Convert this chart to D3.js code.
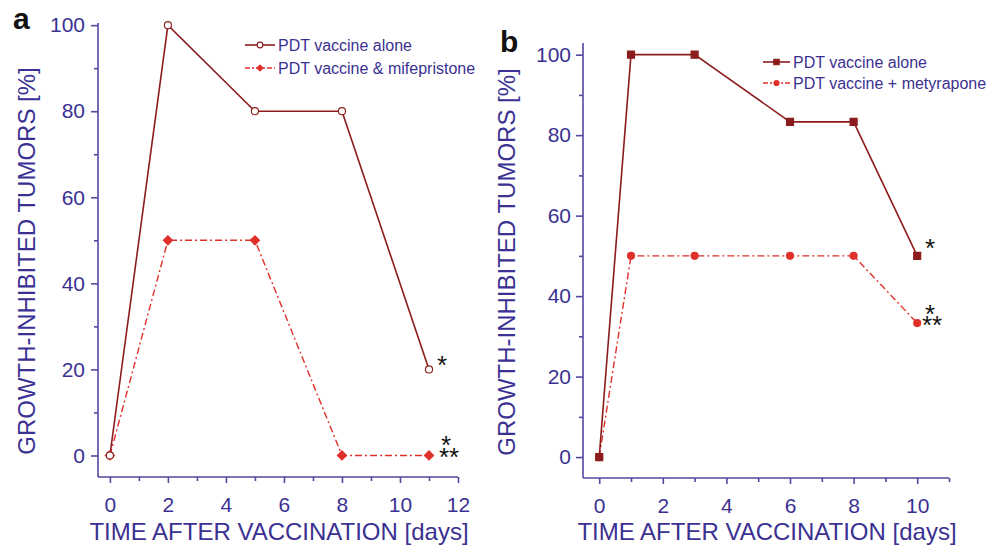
<!DOCTYPE html>
<html><head><meta charset="utf-8">
<script src="https://cdn.jsdelivr.net/npm/d3@7"></script>
<style>body{margin:0;background:#fff}svg{display:block}text{font-family:"Liberation Sans",Arial,sans-serif}</style>
</head><body><svg id="c" width="987" height="547"></svg>
<script>
// Panel a data
const daysA = [0, 2, 5, 8, 11];
const aloneA = [0, 100, 80, 80, 20];
const mifeA = [0, 50, 50, 0, 0];
// Panel b data
const daysB = [0, 1, 3, 6, 8, 10];
const aloneB = [0, 100, 100, 83.3, 83.3, 50];
const metyB = [0, 50, 50, 50, 50, 33.3];
const yTicks = [0, 20, 40, 60, 80, 100];
const xTicksA = [0, 2, 4, 6, 8, 10, 12];
const xTicksB = [0, 2, 4, 6, 8, 10];
const legendA = ["PDT vaccine alone", "PDT vaccine & mifepristone"];
const legendB = ["PDT vaccine alone", "PDT vaccine + metyrapone"];
const yTitle = "GROWTH-INHIBITED TUMORS [%]";
const xTitle = "TIME AFTER VACCINATION [days]";

const svg = d3.select("#c");
const TXT = "#3b3192", AX = "#5148a0", DARK = "#8c1c1c", RED = "#e0302a";

function marker(kind, size) {
  if (kind === "diamond") return d3.symbol(d3.symbolSquare, size)();
  if (kind === "square") return d3.symbol(d3.symbolSquare, size)();
  return d3.symbol(d3.symbolCircle, size)();
}

function panel(o) {
  const g = svg.append("g");
  const x = d3.scaleLinear().domain(o.xd).range(o.xr);
  const y = d3.scaleLinear().domain(o.yd).range(o.yr);
  const ya = g.append("g").attr("transform", `translate(${o.xr[0]},0)`)
    .call(d3.axisLeft(y).tickValues(d3.range(0, 101, 10)).tickSize(7).tickPadding(o.ypad)
      .tickFormat(d => yTicks.includes(d) ? d : ""));
  ya.selectAll(".tick line").attr("x2", d => yTicks.includes(d) ? -7 : -4);
  const xa = g.append("g").attr("transform", `translate(0,${o.yr[0]})`)
    .call(d3.axisBottom(x).tickValues(d3.range(0, o.xmax + 0.01, 1)).tickSize(6).tickPadding(14)
      .tickFormat(d => o.xt.includes(d) ? d : ""));
  xa.selectAll(".tick line").attr("y2", d => o.xt.includes(d) ? 6 : 4);
  [ya, xa].forEach(a => {
    a.select(".domain").remove();
    a.selectAll(".tick line").attr("stroke", AX).attr("stroke-width", 1.6);
    a.selectAll("text").attr("fill", TXT).style("font-size", "21px").attr("font-family", "Liberation Sans, Arial, sans-serif");
  });
  g.append("line").attr("x1", o.xr[0]).attr("x2", o.xr[0]).attr("y1", o.yr[0]).attr("y2", o.yr[1]).attr("stroke", AX).attr("stroke-width", 1.6);
  g.append("line").attr("x1", o.xr[0]).attr("x2", o.xr[1]).attr("y1", o.yr[0]).attr("y2", o.yr[0]).attr("stroke", AX).attr("stroke-width", 1.6);

  // titles
  g.append("text").attr("transform", `translate(${o.ytx},${o.ytc}) rotate(-90)`)
    .attr("text-anchor", "middle").attr("fill", TXT).style("font-size", "24px").text(yTitle);
  g.append("text").attr("x", o.xtc).attr("y", 540)
    .attr("text-anchor", "middle").attr("fill", TXT).style("font-size", "24px").text(xTitle);
  g.append("text").attr("x", o.lbl[0]).attr("y", o.lbl[1]).attr("fill", "#111")
    .style("font-size", "30px").style("font-weight", "bold").text(o.letter);

  const line = d3.line().x(d => x(d[0])).y(d => y(d[1]));
  const s1 = o.days.map((d, i) => [d, o.s1[i]]);
  const s2 = o.days.map((d, i) => [d, o.s2[i]]);
  g.append("path").attr("d", line(s2)).attr("fill", "none").attr("stroke", RED).attr("stroke-width", 1.4).attr("stroke-dasharray", "7,3,2,3");
  g.append("path").attr("d", line(s1)).attr("fill", "none").attr("stroke", DARK).attr("stroke-width", 1.6);

  const rot2 = o.m2 === "diamond" ? " rotate(45)" : "";
  g.selectAll(".m2").data(s2).enter().append("path").attr("d", marker(o.m2, o.m2 === "diamond" ? 58 : 52))
    .attr("transform", d => `translate(${x(d[0])},${y(d[1])})${rot2}`).attr("fill", RED);
  g.selectAll(".m1").data(s1).enter().append("path").attr("d", marker(o.m1, o.m1 === "square" ? 50 : 40))
    .attr("transform", d => `translate(${x(d[0])},${y(d[1])})`)
    .attr("fill", o.m1 === "square" ? DARK : "#fff").attr("stroke", DARK).attr("stroke-width", 1.1);

  // legend
  o.leg.forEach((t, i) => {
    const ly = o.legY + i * o.legGap;
    const lx = o.legX;
    g.append("line").attr("x1", lx).attr("x2", lx + o.legW).attr("y1", ly).attr("y2", ly)
      .attr("stroke", i ? RED : DARK).attr("stroke-width", 1.6).attr("stroke-dasharray", i ? "5,2,2,2" : null);
    const kind = i ? o.m2 : o.m1;
    g.append("path").attr("d", marker(kind, i ? 30 : (kind === "square" ? 30 : 26)))
      .attr("transform", `translate(${lx + o.legW / 2},${ly})${i && kind === "diamond" ? " rotate(45)" : ""}`)
      .attr("fill", i ? RED : (kind === "square" ? DARK : "#fff")).attr("stroke", i ? "none" : DARK).attr("stroke-width", 1.1);
    g.append("text").attr("x", lx + o.legW + 3).attr("y", ly + 6).attr("fill", TXT).style("font-size", "16px").text(t);
  });

  // asterisks (each group stacked in one text)
  o.stars.forEach(s => {
    const t = g.append("text").attr("fill", "#111").style("font-size", "26px");
    s.forEach((line, k) => t.append("tspan").attr("x", line[0]).attr("y", line[1]).text(line[2]));
  });
}

panel({
  letter: "a", lbl: [13, 29],
  xd: [-0.41, 12], xr: [98, 458], yd: [-5, 100.5], yr: [477, 23], xmax: 12, xt: xTicksA, ypad: 6,
  days: daysA, s1: aloneA, s2: mifeA, m1: "circle", m2: "diamond",
  ytx: 35, ytc: 261, xtc: 279, leg: legendA, legX: 245, legY: 45, legGap: 23, legW: 30,
  stars: [[[437, 374, "*"]], [[441, 454, "*"], [439, 466, "**"]]]
});
panel({
  letter: "b", lbl: [500, 52],
  xd: [-0.51, 11], xr: [583, 949], yd: [-5.2, 102.9], yr: [478, 43], xmax: 11, xt: xTicksB, ypad: 5,
  days: daysB, s1: aloneB, s2: metyB, m1: "square", m2: "circle",
  ytx: 515, ytc: 262, xtc: 767, leg: legendB, legX: 763, legY: 62, legGap: 21, legW: 27,
  stars: [[[925, 257, "*"]], [[925, 323, "*"], [922, 334, "**"]]]
});
</script></body></html>
